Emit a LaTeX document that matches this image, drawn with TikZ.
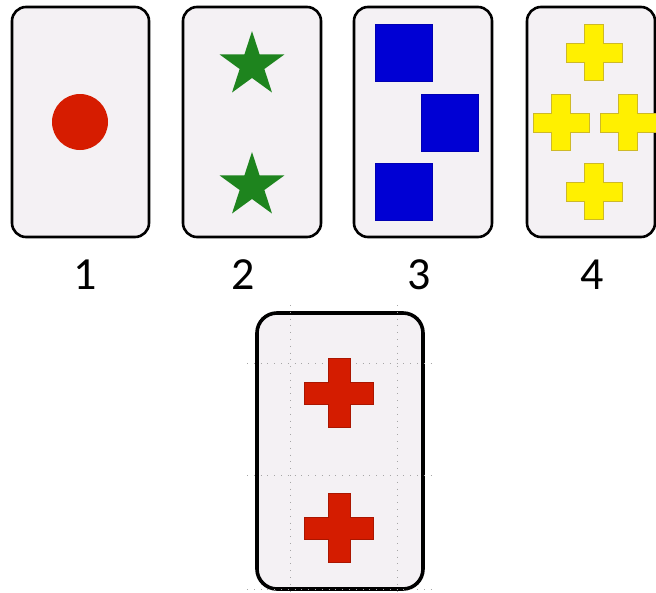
\documentclass[tikz,border=0pt]{standalone}
\usepackage{fontspec}
\setmainfont{Carlito}
\usetikzlibrary{shapes.geometric,positioning}

\definecolor{cardbg}{RGB}{244,241,244}
\definecolor{dotred}{RGB}{214,28,0}
\definecolor{stargreen}{RGB}{30,132,30}
\definecolor{sqblue}{RGB}{0,0,212}
\definecolor{plusyellow}{RGB}{255,240,0}
\definecolor{plusedge}{RGB}{205,185,40}
\definecolor{plusred}{RGB}{212,28,0}

\tikzset{
  card/.style={draw=black, fill=cardbg, line width=2.6pt, rounded corners=14pt, inner sep=0pt},
  bigcard/.style={card, line width=3.6pt, rounded corners=20pt},
  num/.style={font=\fontsize{46}{46}\selectfont, inner sep=0pt},
  sq/.style={fill=sqblue, draw=blue!70!black, line width=0.4pt, minimum size=57pt, inner sep=0pt},
  guide/.style={gray!70, line width=0.6pt, dash pattern=on 0.8pt off 6pt}
}

% plus sign: style, x, y, half size, half arm
\newcommand\plusmark[5]{%
  \filldraw[#1] ({#2-#5},{#3-#4}) -- ({#2+#5},{#3-#4}) -- ({#2+#5},{#3-#5}) -- ({#2+#4},{#3-#5})
    -- ({#2+#4},{#3+#5}) -- ({#2+#5},{#3+#5}) -- ({#2+#5},{#3+#4}) -- ({#2-#5},{#3+#4})
    -- ({#2-#5},{#3+#5}) -- ({#2-#4},{#3+#5}) -- ({#2-#4},{#3-#5}) -- ({#2-#5},{#3-#5}) -- cycle;}

\begin{document}
\begin{tikzpicture}[x=1pt, y=-1pt]
  \useasboundingbox (0,0) rectangle (656,592);

  % the four cards
  \node[card, minimum width=137pt, minimum height=230pt] (card1) at (80.5,122) {};
  \node[card, minimum width=138pt, minimum height=230pt] (card2) at (252,122) {};
  \node[card, minimum width=138pt, minimum height=230pt] (card3) at (423,122) {};
  \node[card, minimum width=128pt, minimum height=230pt] (card4) at (591,122) {};

  % card 1: one dot
  \node[circle, fill=dotred, minimum size=56pt, inner sep=0pt] (dot) at (80,122) {};

  % card 2: two stars
  \node[star, star points=5, star point ratio=2.618, fill=stargreen, minimum size=68pt, inner sep=0pt] (star1) at (252,65) {};
  \node[star, star points=5, star point ratio=2.618, fill=stargreen, minimum size=68pt, inner sep=0pt] (star2) at (252,186) {};

  % card 3: three squares
  \node[sq] (sq1) at (403.5,52.5) {};
  \node[sq] (sq2) at (450,122.5) {};
  \node[sq] (sq3) at (403.5,191.5) {};

  % card 4: four yellow crosses
  \plusmark{fill=plusyellow, draw=plusedge, line width=0.6pt}{594}{52.5}{28}{9.5}
  \plusmark{fill=plusyellow, draw=plusedge, line width=0.6pt}{561}{122.5}{28}{9.5}
  \plusmark{fill=plusyellow, draw=plusedge, line width=0.6pt}{628}{122.5}{28}{9.5}
  \plusmark{fill=plusyellow, draw=plusedge, line width=0.6pt}{594}{191.5}{28}{9.5}

  % numbers
  \node[num] (lab1) at (85,275) {1};
  \node[num] (lab2) at (243,275) {2};
  \node[num] (lab3) at (419,275) {3};
  \node[num] (lab4) at (592,275) {4};

  % target card
  \node[bigcard, minimum width=166pt, minimum height=276pt] (target) at (340,451) {};
  \draw[guide] (290,305) -- (290,592);
  \draw[guide] (397,305) -- (397,592);
  \draw[guide] (247,363) -- (432,363);
  \draw[guide] (247,475) -- (432,475);
  \draw[guide] (247,589) -- (432,589);
  \plusmark{fill=plusred, draw=plusred!80!black, line width=0.5pt}{339}{393}{34.5}{11}
  \plusmark{fill=plusred, draw=plusred!80!black, line width=0.5pt}{339}{528}{34.5}{11}
\end{tikzpicture}
\end{document}
